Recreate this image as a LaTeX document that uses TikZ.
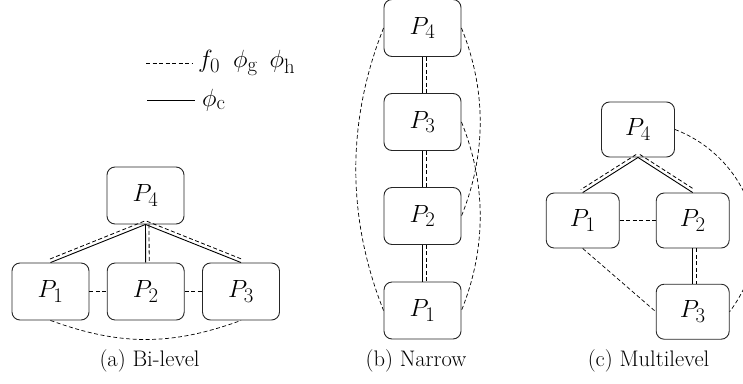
\documentclass[tikz,border=0pt]{standalone}
\usepackage{fontspec}
\usetikzlibrary{calc}
\newcommand\Pl[1]{$P_{#1}$}
\tikzset{
  box/.style={draw=black!85, rounded corners=8pt, minimum width=77pt, minimum height=57pt, inner sep=0pt, line width=0.9pt},
  smallbox/.style={box, minimum width=73pt, minimum height=55pt},
  link/.style={line width=0.9pt},
  dlink/.style={line width=0.8pt, dash pattern=on 4pt off 2.5pt},
  arcline/.style={line width=0.7pt, dash pattern=on 4pt off 2.5pt},
  captext/.style={anchor=base, font=\fontsize{22.5}{26}\selectfont},
}
\newcommand\dbl[4]{%
  \draw[link] (#1.south) -- (#2.north);
  \draw[dlink] ($(#1.south)!3.5pt!#3:(#2.north)$) -- ($(#2.north)!3.5pt!#4:(#1.south)$);}
\begin{document}
\begin{tikzpicture}[x=1pt,y=-1pt, every node/.style={font=\fontsize{24.88}{30}\selectfont}]
\useasboundingbox (0,0) rectangle (743,383);
% legend
\coordinate (l1s) at (146,63);
\coordinate (l1e) at (193,63);
\coordinate (l2s) at (147,100);
\coordinate (l2e) at (195,100);
\draw[dlink] (l1s) -- (l1e);
\draw[link] (l2s) -- (l2e);
\node[anchor=west, inner sep=0pt] (lt1) at (198,63) {$f_0\hspace{13pt}\phi_\mathrm{g}\hspace{12pt}\phi_\mathrm{h}$};
\node[anchor=west, inner sep=0pt] (lt2) at (202,100) {$\phi_\mathrm{c}$};
% (a) Bi-level
\node[box] (a4) at (145.5,195.5) {\Pl{4}};
\node[box] (a1) at (50.5,291.5) {\Pl{1}};
\node[box] (a2) at (145.7,291.5) {\Pl{2}};
\node[box] (a3) at (241,291.5) {\Pl{3}};
\dbl{a4}{a1}{-90}{90}
\dbl{a4}{a2}{90}{-90}
\dbl{a4}{a3}{90}{-90}
\draw[dlink] (a1) -- (a2);
\draw[dlink] (a2) -- (a3);
\draw[arcline] (a1.south) to[bend right=20] (a3.south);
\node[captext] (capa) at (149.5,366) {(a)\hspace{0.3em}Bi-level};
% (b) Narrow
\node[box] (b4) at (422.5,28) {\Pl{4}};
\node[box] (b3) at (422.5,122) {\Pl{3}};
\node[box] (b2) at (422.5,216) {\Pl{2}};
\node[box] (b1) at (422.5,310.5) {\Pl{1}};
\dbl{b4}{b3}{90}{-90}
\dbl{b3}{b2}{90}{-90}
\dbl{b2}{b1}{90}{-90}
\draw[arcline] (b4.west) .. controls +(-37,93) and +(-37,-93) .. (b1.west);
\draw[arcline] (b4.east) .. controls +(25,62) and +(25,-62) .. (b2.east);
\draw[arcline] (b3.east) .. controls +(25,62) and +(25,-62) .. (b1.east);
\node[captext] (capb) at (416,366) {(b)\hspace{0.3em}Narrow};
% (c) Multilevel
\node[smallbox] (c4) at (638,129.5) {\Pl{4}};
\node[smallbox] (c1) at (582.7,220.5) {\Pl{1}};
\node[smallbox] (c2) at (692.7,220.5) {\Pl{2}};
\node[smallbox] (c3) at (692.7,311.7) {\Pl{3}};
\dbl{c4}{c1}{-90}{90}
\dbl{c4}{c2}{90}{-90}
\dbl{c2}{c3}{90}{-90}
\draw[dlink] (c1) -- (c2);
\draw[arcline] (c1.south) -- (c3.west);
\draw[arcline] (c4.east) .. controls +(66,25) and +(56,-75) .. (c3.east);
\node[captext] (capc) at (648.5,366) {(c)\hspace{0.3em}Multilevel};
\end{tikzpicture}
\end{document}
